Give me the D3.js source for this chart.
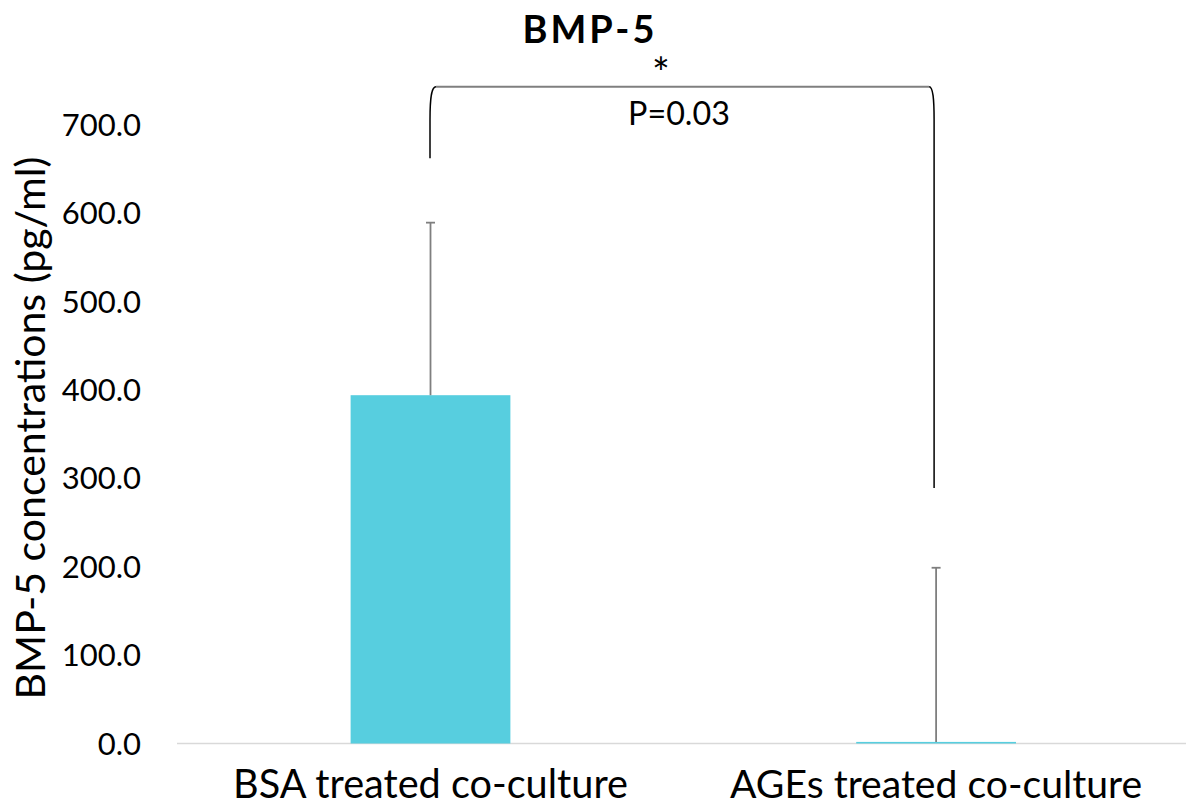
<!DOCTYPE html>
<html>
<head>
<meta charset="utf-8">
<script src="https://cdn.jsdelivr.net/npm/d3@7/dist/d3.min.js"></script>
<style>
  html, body { margin: 0; padding: 0; background: #fff; }
  svg { display: block; font-family: Lato, "Open Sans", sans-serif; }
</style>
</head>
<body>
<svg id="chart" width="1186" height="807"></svg>
<script>
// BMP-5 concentration per treatment group (mean ± SD, pg/ml)
const categories = ["BSA treated co-culture", "AGEs treated co-culture"];
const means = [394.0, 1.8];
const errors = [195.2, 197.0];
const yTicks = [0, 100, 200, 300, 400, 500, 600, 700];

// Significance bracket between the two groups (heights in pg/ml)
const bracketTop = 743;
const bracketEnds = [662, 289];
const pLabel = "P=0.03";
const starLabel = "*";

const svg = d3.select("#chart");
const W = 1186;

const x = d3.scaleBand()
  .domain(categories)
  .range([177.7, 1188.9])
  .paddingInner(0.684)
  .paddingOuter(0.342);

const y = d3.scaleLinear()
  .domain([0, 700])
  .range([743.5, 124.7]);

// Scale a text element's font size so it spans the given width
function fitWidth(sel, target) {
  const node = sel.node();
  const fs = parseFloat(sel.attr("font-size"));
  const w = node.getComputedTextLength();
  if (w > 0) sel.attr("font-size", (fs * target / w).toFixed(2));
  return sel;
}

// Baseline (category axis)
svg.append("line")
  .attr("x1", 177).attr("x2", W)
  .attr("y1", y(0)).attr("y2", y(0))
  .attr("stroke", "#d9d9d9").attr("stroke-width", 1.5);

// Y tick labels
svg.append("g").selectAll("text")
  .data(yTicks)
  .join("text")
  .attr("x", 141)
  .attr("y", d => y(d))
  .attr("dy", "0.36em")
  .attr("text-anchor", "end")
  .attr("font-size", 31)
  .attr("fill", "#000")
  .text(d => d3.format(".1f")(d));

// Bars
const cx = d => x(d) + x.bandwidth() / 2;
svg.append("g").selectAll("rect")
  .data(categories)
  .join("rect")
  .attr("x", d => x(d))
  .attr("width", x.bandwidth())
  .attr("y", (d, i) => y(means[i]))
  .attr("height", (d, i) => y(0) - y(means[i]))
  .attr("fill", "#57cedf");

// Error bars (upper only)
const eb = svg.append("g").attr("stroke", "#7f7f7f").attr("stroke-width", 1.8);
categories.forEach((c, i) => {
  eb.append("line")
    .attr("x1", cx(c)).attr("x2", cx(c))
    .attr("y1", y(means[i])).attr("y2", y(means[i] + errors[i]));
  eb.append("line")
    .attr("x1", cx(c) - 4.5).attr("x2", cx(c) + 4.5)
    .attr("y1", y(means[i] + errors[i])).attr("y2", y(means[i] + errors[i]));
});

// Significance bracket
const lx = cx(categories[0]) - 0.5;
const rx = cx(categories[1]) - 2;
const ty = y(bracketTop);
svg.append("path")
  .attr("d", `M${lx},${y(bracketEnds[0])} L${lx},${ty + 33} C${lx},${ty + 8} ${lx + 2},${ty} ${lx + 6},${ty}`)
  .attr("fill", "none").attr("stroke", "#000").attr("stroke-width", 1.5);
svg.append("line")
  .attr("x1", lx + 6).attr("x2", rx - 5)
  .attr("y1", ty).attr("y2", ty)
  .attr("stroke", "#7f7f7f").attr("stroke-width", 2);
svg.append("path")
  .attr("d", `M${rx - 5},${ty} C${rx - 1},${ty} ${rx},${ty + 13} ${rx},${ty + 33} L${rx},${y(bracketEnds[1])}`)
  .attr("fill", "none").attr("stroke", "#000").attr("stroke-width", 1.5);

const midX = 679;
svg.append("text")
  .attr("x", 661).attr("y", 88)
  .attr("text-anchor", "middle")
  .attr("font-size", 42)
  .text(starLabel);
fitWidth(svg.append("text")
  .attr("x", midX).attr("y", 125)
  .attr("text-anchor", "middle")
  .attr("font-size", 34)
  .text(pLabel), 102);

// Category labels
svg.append("g").selectAll("text")
  .data(categories)
  .join("text")
  .attr("x", d => cx(d))
  .attr("y", 798)
  .attr("text-anchor", "middle")
  .attr("font-size", 34)
  .text(d => d)
  .each(function (d, i) { fitWidth(d3.select(this), [395, 412][i]); });

// Y axis title
fitWidth(svg.append("text")
  .attr("transform", "translate(45,428) rotate(-90)")
  .attr("text-anchor", "middle")
  .attr("font-size", 39)
  .text("BMP-5 concentrations (pg/ml)"), 543);

// Chart title
fitWidth(svg.append("text")
  .attr("x", 590).attr("y", 43)
  .attr("text-anchor", "middle")
  .attr("font-size", 38)
  .attr("font-weight", "bold")
  .attr("letter-spacing", 3)
  .text("BMP-5"), 135);
</script>
</body>
</html>
